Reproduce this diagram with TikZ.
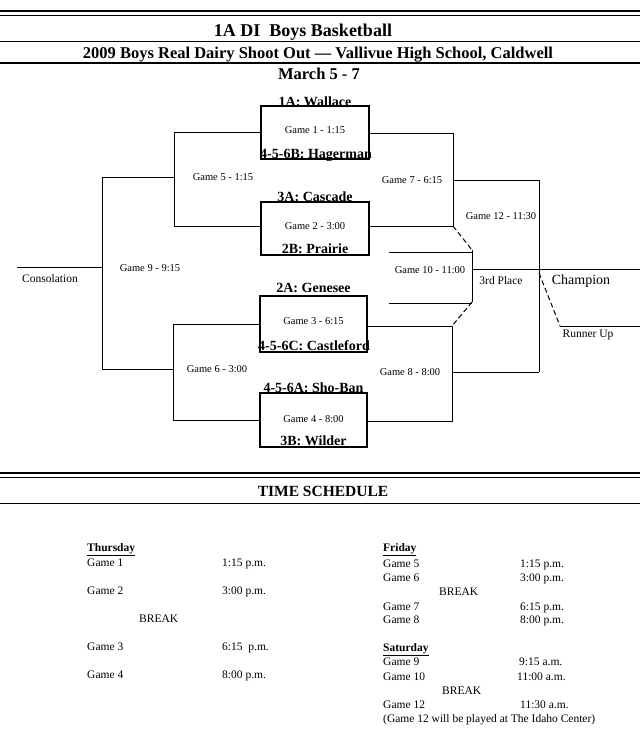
\documentclass[tikz,border=0pt]{standalone}
\usepackage{fontspec}
\setmainfont{Liberation Serif}
\begin{document}
\begin{tikzpicture}[x=1pt,y=-1pt,
  box/.style={draw,line width=1.3pt,inner sep=0pt},
  ln/.style={line width=1pt},
  dsh/.style={line width=1pt,dash pattern=on 5pt off 3pt},
  team/.style={font=\bfseries\fontsize{14}{14}\selectfont,inner sep=0pt,anchor=base},
  game/.style={font=\fontsize{10.5}{10.5}\selectfont,inner sep=0pt,anchor=base},
  lbl/.style={font=\fontsize{11.5}{11.5}\selectfont,inner sep=0pt,anchor=base},
  sch/.style={font=\fontsize{11.5}{11.5}\selectfont,inner sep=0pt,anchor=base west},
  schd/.style={font=\bfseries\fontsize{11.5}{11.5}\selectfont,inner sep=0pt,anchor=base west},
]
\useasboundingbox (0,0) rectangle (640,736);
% header rules
\draw[line width=2.5pt] (0,11) -- (640,11);
\draw[line width=0.8pt] (0,15) -- (640,15);
\draw[line width=1pt] (0,41) -- (640,41);
\draw[line width=1.2pt] (0,63) -- (640,63);
\node[inner sep=0pt,anchor=base,font=\bfseries\fontsize{18}{18}\selectfont] (title) at (303,36) {1A DI\ \ Boys Basketball};
\node[inner sep=0pt,anchor=base,font=\bfseries\fontsize{16.5}{16.5}\selectfont] (sub) at (318,58) {2009 Boys Real Dairy Shoot Out --- Vallivue High School, Caldwell};
\node[inner sep=0pt,anchor=base,font=\bfseries\fontsize{16.5}{16.5}\selectfont] (date) at (319,79) {March 5 - 7};

% boxes
\node[box,minimum width=108pt,minimum height=53pt] (b1) at (315,132.5) {};
\node[box,minimum width=108pt,minimum height=53pt] (b2) at (315,228.5) {};
\node[box,minimum width=107pt,minimum height=56pt] (b3) at (313.5,324) {};
\node[box,minimum width=107pt,minimum height=54pt] (b4) at (313.5,420) {};

% team names and game labels in boxes
\node[team] (t1) at (315,106) {1A: Wallace};
\node[game] (gm1) at (315,133.5) {Game 1 - 1:15};
\node[team] (t2) at (316,158) {4-5-6B: Hagerman};
\node[team] (t3) at (315,201) {3A: Cascade};
\node[game] (gm2) at (315,229.5) {Game 2 - 3:00};
\node[team] (t4) at (315,253) {2B: Prairie};
\node[team] (t5) at (313.5,292) {2A: Genesee};
\node[game] (gm3) at (313.5,324.5) {Game 3 - 6:15};
\node[team] (t6) at (314,350) {4-5-6C: Castleford};
\node[team] (t7) at (313.5,392) {4-5-6A: Sho-Ban};
\node[game] (gm4) at (313.5,422.5) {Game 4 - 8:00};
\node[team] (t8) at (313.5,445) {3B: Wilder};

% bracket coordinates
\coordinate (g5t) at (174,132);
\coordinate (g5b) at (174,226);
\coordinate (g5m) at (174,177);
\coordinate (g7t) at (453,133);
\coordinate (g7b) at (453,226);
\coordinate (g7m) at (453,180);
\coordinate (g6t) at (173,324);
\coordinate (g6b) at (173,420);
\coordinate (g6m) at (173,369);
\coordinate (g8t) at (452,326);
\coordinate (g8b) at (452,421);
\coordinate (g8m) at (452,372);
\coordinate (g9t) at (102,177);
\coordinate (g9b) at (102,369);
\coordinate (g9m) at (102,267);
\coordinate (cons) at (17,267);
\coordinate (g12t) at (539,180);
\coordinate (g12b) at (539,372);
\coordinate (g12m) at (539,269);
\coordinate (g10t) at (472,250);
\coordinate (g10b) at (472,302);
\coordinate (g10m) at (472,269);
\coordinate (g10lt) at (389,252);
\coordinate (g10rt) at (472,252);
\coordinate (g10lb) at (389,303);
\coordinate (g10rb) at (472,303);
\coordinate (champ) at (640,269);
\coordinate (ru1) at (539,273);
\coordinate (ru2) at (560,326);
\coordinate (ru3) at (640,326);

% bracket lines
\draw[ln] (b1.west |- g5t) -- (g5t) -- (g5b) -- (b2.west |- g5b);
\draw[ln] (g5m) -- (g9t);
\draw[ln] (b1.east |- g7t) -- (g7t) -- (g7b) -- (b2.east |- g7b);
\draw[ln] (g7m) -- (g12t);
\draw[ln] (b3.west |- g6t) -- (g6t) -- (g6b) -- (b4.west |- g6b);
\draw[ln] (g6m) -- (g9b);
\draw[ln] (b3.east |- g8t) -- (g8t) -- (g8b) -- (b4.east |- g8b);
\draw[ln] (g8m) -- (g12b);
\draw[ln] (g9t) -- (g9b);
\draw[ln] (g9m) -- (cons);
\draw[ln] (g12t) -- (g12b);
\draw[dsh] (g7b) -- (g10t);
\draw[dsh] (g10b) -- (g8t);
\draw[ln] (g10t) -- (g10b);
\draw[ln] (g10lt) -- (g10rt);
\draw[ln] (g10lb) -- (g10rb);
\draw[ln] (g10m) -- (champ);
\draw[dsh] (ru1) -- (ru2);
\draw[ln] (ru2) -- (ru3);

% bracket labels
\node[game] (l5) at (223,180.5) {Game 5 - 1:15};
\node[game] (l7) at (412,183.5) {Game 7 - 6:15};
\node[game] (l12) at (501,219.5) {Game 12 - 11:30};
\node[game] (l10) at (430,273.5) {Game 10 - 11:00};
\node[game] (l9) at (150,271.5) {Game 9 - 9:15};
\node[game] (l6) at (217,372.5) {Game 6 - 3:00};
\node[game] (l8) at (410,375.5) {Game 8 - 8:00};
\node[lbl] (l3rd) at (501,284) {3rd Place};
\node[lbl] (lcons) at (50,282) {Consolation};
\node[inner sep=0pt,anchor=base,font=\fontsize{14}{14}\selectfont] (lchamp) at (581,284) {Champion};
\node[lbl] (lru) at (588,337) {Runner Up};

% schedule header
\draw[line width=2.5pt] (0,473) -- (640,473);
\draw[line width=0.8pt] (0,477.5) -- (640,477.5);
\draw[line width=1pt] (0,503) -- (640,503);
\node[inner sep=0pt,anchor=base,font=\bfseries\fontsize{15.5}{15.5}\selectfont] (ts) at (323,496) {TIME SCHEDULE};

% Thursday
\node[schd] (thu) at (87,551) {\underline{Thursday}};
\node[sch] (s1) at (87,566) {Game 1};
\node[sch] (s1t) at (222,566) {1:15 p.m.};
\node[sch] (s2) at (87,594) {Game 2};
\node[sch] (s2t) at (222,594) {3:00 p.m.};
\node[sch] (sb1) at (139,622) {BREAK};
\node[sch] (s3) at (87,650) {Game 3};
\node[sch] (s3t) at (222,650) {6:15\ \ p.m.};
\node[sch] (s4) at (87,678) {Game 4};
\node[sch] (s4t) at (222,678) {8:00 p.m.};

% Friday
\node[schd] (fri) at (383,551) {\underline{Friday}};
\node[sch] (s5) at (383,567) {Game 5};
\node[sch] (s5t) at (520,567) {1:15 p.m.};
\node[sch] (s6) at (383,581) {Game 6};
\node[sch] (s6t) at (520,581) {3:00 p.m.};
\node[sch] (sb2) at (439,595) {BREAK};
\node[sch] (s7) at (383,610) {Game 7};
\node[sch] (s7t) at (520,610) {6:15 p.m.};
\node[sch] (s8) at (383,623) {Game 8};
\node[sch] (s8t) at (520,623) {8:00 p.m.};

% Saturday
\node[schd] (sat) at (383,651) {\underline{Saturday}};
\node[sch] (s9) at (383,665) {Game 9};
\node[sch] (s9t) at (519,665) {9:15 a.m.};
\node[sch] (s10) at (383,680) {Game 10};
\node[sch] (s10t) at (517,680) {11:00 a.m.};
\node[sch] (sb3) at (442,694) {BREAK};
\node[sch] (s12) at (383,708) {Game 12};
\node[sch] (s12t) at (520,708) {11:30 a.m.};
\node[sch] (snote) at (383,722) {(Game 12 will be played at The Idaho Center)};
\end{tikzpicture}
\end{document}
